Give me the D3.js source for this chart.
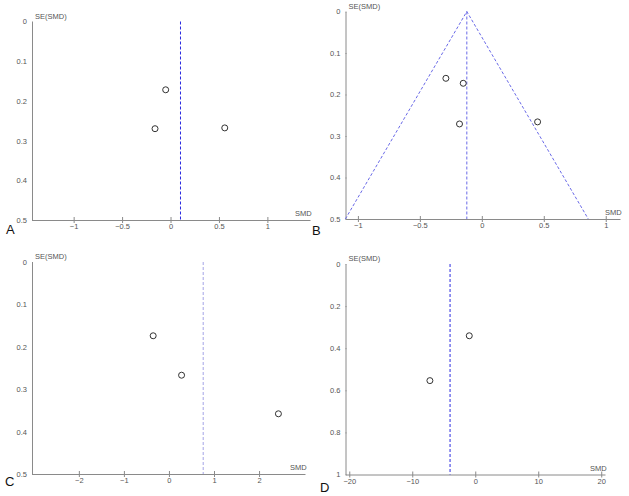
<!DOCTYPE html>
<html>
<head>
<meta charset="utf-8">
<script src="https://cdn.jsdelivr.net/npm/d3@7.9.0/dist/d3.min.js"></script>
<style>
  body { margin: 0; background: #fff; }
  svg { display: block; font-family: "Liberation Sans", Arial, sans-serif; }
  .tick text { fill: #555; font-size: 7.5px; }
  .domain, .tick line { stroke: #8a8a8a; }
</style>
</head>
<body>
<svg width="629" height="496"></svg>
<script>
// study points (SMD, SE) for each panel
const smdA = [-0.05, -0.16, 0.56];
const seA = [0.172, 0.27, 0.268];
const pooledA = 0.103;

const smdB = [-0.29, -0.15, -0.18, 0.45];
const seB = [0.161, 0.173, 0.271, 0.266];
const pooledB = -0.121;

const smdC = [-0.35, 0.28, 2.43];
const seC = [0.174, 0.267, 0.358];
const pooledC = 0.76;

const smdD = [-0.95, -7.2];
const seD = [0.341, 0.554];
const pooledD = -4;

const xTicksA = [-1, -0.5, 0, 0.5, 1];
const xTicksB = [-1, -0.5, 0, 0.5, 1];
const xTicksC = [-2, -1, 0, 1, 2];
const xTicksD = [-20, -10, 0, 10, 20];
const yTicksABC = [0, 0.1, 0.2, 0.3, 0.4, 0.5];
const yTicksD = [0, 0.2, 0.4, 0.6, 0.8, 1];

const svg = d3.select("svg");

const panels = [
  { id: "A", smd: smdA, se: seA, pooled: pooledA, xTicks: xTicksA, yTicks: yTicksABC,
    xDom: [-1.43, 1.44], yMax: 0.5, x0: 32, x1: 310, y0: 21.5, y1: 220,
    line: "#2a2ae0", dash: "3,2", funnel: false, letter: [6, 234] },
  { id: "B", smd: smdB, se: seB, pooled: pooledB, xTicks: xTicksB, yTicks: yTicksABC,
    xDom: [-1.1, 1.115], yMax: 0.5, x0: 345.5, x1: 620, y0: 11.5, y1: 219,
    line: "#6a6ae8", dash: "3,2", funnel: true, letter: [312, 235] },
  { id: "C", smd: smdC, se: seC, pooled: pooledC, xTicks: xTicksC, yTicks: yTicksABC,
    xDom: [-3.04, 3.02], yMax: 0.5, x0: 32, x1: 305, y0: 262, y1: 474,
    line: "#a4a4e6", dash: "3,2", funnel: false, letter: [5, 486] },
  { id: "D", smd: smdD, se: seD, pooled: pooledD, xTicks: xTicksD, yTicks: yTicksD,
    xDom: [-20.6, 20.6], yMax: 1, x0: 345.5, x1: 605, y0: 264, y1: 474.5,
    line: "#2a2ae0", dash: "3,2", funnel: false, letter: [320, 492] }
];

panels.forEach(p => {
  const x = d3.scaleLinear().domain(p.xDom).range([p.x0, p.x1]);
  const y = d3.scaleLinear().domain([0, p.yMax]).range([p.y0, p.y1]);
  const g = svg.append("g");

  // x axis
  const xa = g.append("g")
    .attr("transform", `translate(0,${p.y1})`)
    .call(d3.axisBottom(x).tickValues(p.xTicks).tickSizeOuter(0).tickSizeInner(3).tickPadding(1)
      .tickFormat(d3.format("")));
  xa.selectAll(".tick line").attr("y1", -3);

  // y axis
  const ya = g.append("g")
    .attr("transform", `translate(${p.x0},0)`)
    .call(d3.axisLeft(y).tickValues(p.yTicks).tickSizeOuter(0).tickSizeInner(3).tickPadding(2)
      .tickFormat(d3.format("")));
  ya.selectAll(".tick line").attr("x2", 1);

  g.append("text").attr("x", p.x0 + 3).attr("y", p.y0 - 3)
    .attr("font-size", 7.5).attr("fill", "#555").text("SE(SMD)");
  g.append("text").attr("x", p.x1 - 15).attr("y", p.y1 - 4)
    .attr("font-size", 7.5).attr("fill", "#555").text("SMD");

  // pooled estimate line
  g.append("line")
    .attr("x1", x(p.pooled)).attr("x2", x(p.pooled))
    .attr("y1", y(0)).attr("y2", y(p.yMax))
    .attr("stroke", p.line).attr("stroke-width", 1).attr("stroke-dasharray", p.dash);

  if (p.funnel) {
    const half = 1.96 * p.yMax;
    g.append("path")
      .attr("d", d3.line()([
        [x(p.pooled - half), y(p.yMax)],
        [x(p.pooled), y(0)],
        [x(p.pooled + half), y(p.yMax)]
      ]))
      .attr("fill", "none").attr("stroke", p.line).attr("stroke-width", 1)
      .attr("stroke-dasharray", p.dash);
  }

  g.selectAll("circle")
    .data(p.smd.map((v, i) => [v, p.se[i]]))
    .join("circle")
    .attr("cx", d => x(d[0])).attr("cy", d => y(d[1]))
    .attr("r", 3).attr("fill", "none").attr("stroke", "#333").attr("stroke-width", 1);

  svg.append("text").attr("x", p.letter[0]).attr("y", p.letter[1])
    .attr("font-size", 13).attr("fill", "#111").text(p.id);
});
</script>
</body>
</html>
